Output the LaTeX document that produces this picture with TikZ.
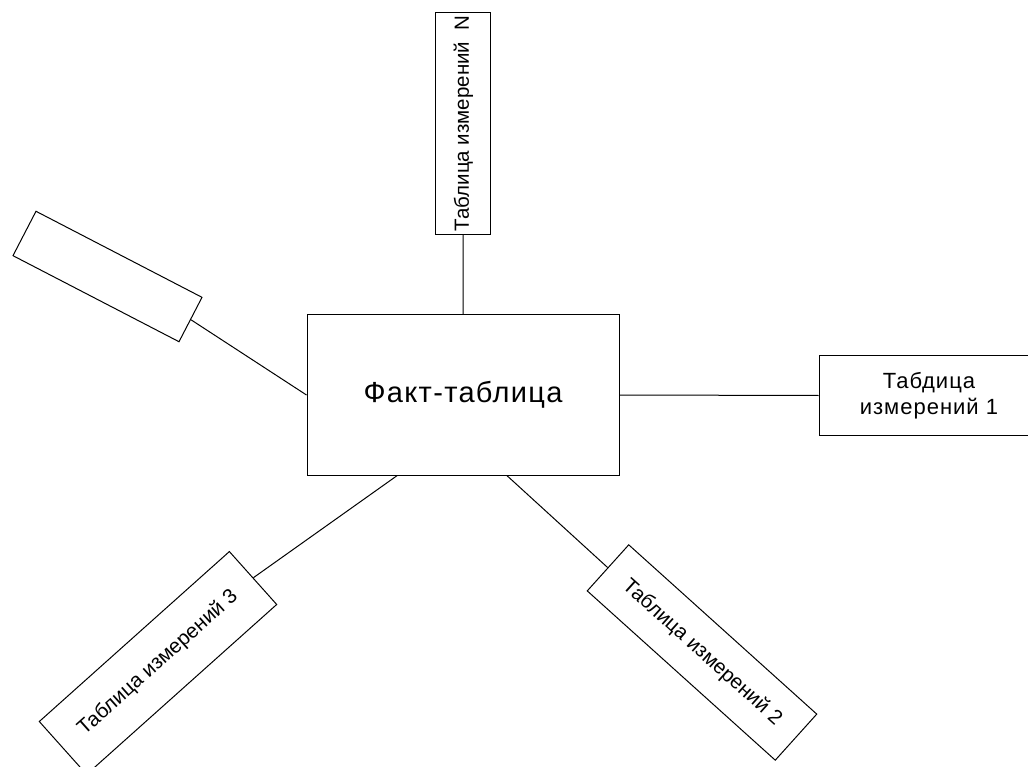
\documentclass[tikz,border=0pt]{standalone}
\usepackage{fontspec}
\setmainfont{Liberation Sans}
\newfontfamily\spacedfont[LetterSpace=4.5]{Liberation Sans}
\usetikzlibrary{calc}

\begin{document}
\begin{tikzpicture}[x=1pt, y=-1pt, line width=1pt, main/.style = {draw, rectangle, inner sep=0pt, align=center}, dim/.style = {main, font=\fontsize{20.5}{24}\selectfont}]
			\useasboundingbox (0,0) rectangle (1028,767);
			\clip (0,0) rectangle (1028,767);
			\node[main, minimum width=312pt, minimum height=160pt, font=\spacedfont\fontsize{29}{34}\selectfont] (fact) at (463,395) {Факт-таблица};
			\node[dim, minimum width=222pt, minimum height=55pt, rotate=90] (dN) at (463.3,123.3) {Таблица измерений~~N};
			\node[main, minimum width=220pt, minimum height=80pt, font=\spacedfont\fontsize{22}{25.7}\selectfont] (d1) at (929,395.5) {Табдица\\измерений 1};
			\node[dim, minimum width=253pt, minimum height=62pt, rotate=-42] (d2) at (702,652.5) {Таблица измерений 2};
			\node[dim, minimum width=255pt, minimum height=71pt, rotate=41.8] (d3) at (158,663) {Таблица измерений 3};
			\node[main, minimum width=187pt, minimum height=50pt, rotate=-27.4] (d0) at (107.5,276.5) {};
			\draw (dN) -- (fact);
			\draw (fact.east) -- (d1.west);
			\draw ($(fact.south west)!0.64!(fact.south east)$) -- (d2.west);
			\draw ($(fact.south west)!0.29!(fact.south east)$) -- (d3.east);
			\draw (d0.east) -- (fact.west);
		\end{tikzpicture}
\end{document}
